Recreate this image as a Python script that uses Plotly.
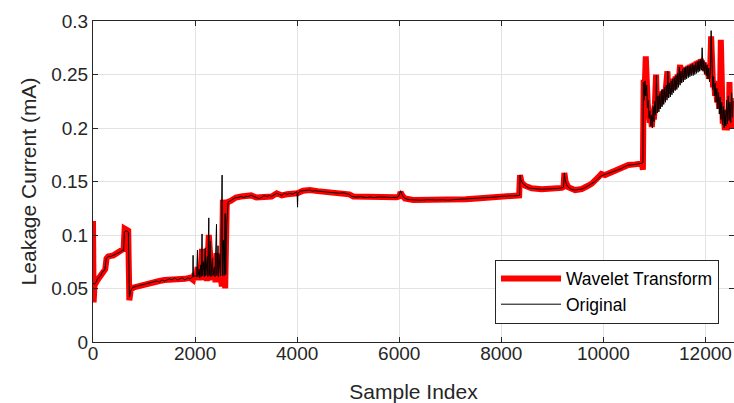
import plotly.graph_objects as go

# ---- Original signal ----
orig_x = [0, 40, 90, 150, 190, 230, 260, 300, 353, 400, 450, 484, 530, 582, 600, 615, 650, 693, 713, 740, 778, 850, 941, 1000, 1100, 1203, 1250, 1300, 1350, 1400, 1465, 1500, 1550, 1600, 1650, 1700, 1750, 1800, 1857, 1900, 1940,
          1955, 1961, 1967, 2000, 2030, 2047, 2055, 2080, 2090, 2110, 2120, 2137, 2145, 2170, 2180, 2200, 2210, 2240, 2250, 2269, 2277, 2300, 2310, 2340, 2350, 2380, 2390, 2420, 2428, 2450, 2460, 2490, 2500, 2530, 2538, 2560, 2570, 2590, 2600, 2620, 2630,
          2647, 2700, 2750, 2800, 2843, 2900, 2950, 3000, 3039, 3100, 3150, 3200, 3250, 3302, 3350, 3400, 3465, 3500, 3550, 3596, 3650, 3700, 3750, 3800, 3857, 3900, 3950, 3988, 4000, 4008, 4015, 4060, 4118, 4180, 4249, 4300, 4350, 4400, 4450, 4510, 4600, 4700, 4773, 4850, 4900, 4969, 5020, 5067, 5150, 5250, 5350, 5425, 5500, 5600, 5700, 5753, 5850, 5950, 5990, 6027, 6060, 6112, 6200, 6275, 6350, 6450, 6550, 6650, 6733, 6850, 6950, 7050, 7125, 7200, 7300, 7400, 7518, 7600, 7700, 7800, 7900, 8039, 8100, 8171, 8250, 8340, 8360,
          8367, 8380, 8420, 8465, 8530, 8596, 8700, 8792, 8900, 8988, 9100, 9184, 9220, 9236, 9250, 9280, 9314, 9380, 9445, 9510, 9576, 9650, 9700, 9773, 9840, 9902, 9950, 10000, 10033, 10100, 10200, 10294, 10350, 10420, 10490, 10560, 10620, 10700, 10753, 10775]
orig_y = [0.055, 0.054, 0.059, 0.062, 0.066, 0.067, 0.078, 0.080, 0.080, 0.081, 0.082, 0.083, 0.084, 0.086, 0.085, 0.103, 0.104, 0.103, 0.042, 0.048, 0.051, 0.052, 0.053, 0.054, 0.055, 0.056, 0.057, 0.056, 0.058, 0.057, 0.058, 0.059, 0.058, 0.060, 0.058, 0.059, 0.060, 0.058, 0.060, 0.059, 0.061,
          0.061, 0.081, 0.061, 0.062, 0.061, 0.086, 0.061, 0.068, 0.060, 0.072, 0.061, 0.101, 0.062, 0.075, 0.061, 0.088, 0.062, 0.080, 0.061, 0.116, 0.062, 0.094, 0.061, 0.078, 0.062, 0.070, 0.061, 0.110, 0.062, 0.090, 0.061, 0.082, 0.062, 0.156, 0.062, 0.095, 0.062, 0.120, 0.063, 0.110, 0.125,
          0.131, 0.132, 0.134, 0.135, 0.135, 0.136, 0.135, 0.136, 0.136, 0.137, 0.136, 0.135, 0.134, 0.135, 0.137, 0.136, 0.137, 0.136, 0.138, 0.139, 0.138, 0.137, 0.139, 0.138, 0.139, 0.138, 0.139, 0.1405, 0.139, 0.126, 0.139, 0.141, 0.1414, 0.142, 0.142, 0.141, 0.1415, 0.141, 0.1405, 0.1405, 0.140, 0.1395, 0.139, 0.139, 0.1395, 0.139, 0.138, 0.136, 0.1355, 0.1358, 0.135, 0.1355, 0.135, 0.1355, 0.135, 0.1353, 0.135, 0.1352, 0.136, 0.1414, 0.137, 0.1342, 0.133, 0.1327, 0.133, 0.1325, 0.133, 0.1325, 0.1327, 0.133, 0.1325, 0.133, 0.1332, 0.1335, 0.1333, 0.134, 0.1342, 0.1345, 0.135, 0.1352, 0.1355, 0.1364, 0.1362, 0.1367, 0.1365, 0.137, 0.137,
          0.156, 0.152, 0.148, 0.146, 0.144, 0.1436, 0.143, 0.1427, 0.143, 0.143, 0.1435, 0.144, 0.145, 0.158, 0.152, 0.147, 0.1446, 0.1425, 0.142, 0.1425, 0.143, 0.1445, 0.146, 0.148, 0.150, 0.153, 0.155, 0.156, 0.1565, 0.158, 0.159, 0.1608, 0.162, 0.164, 0.1654, 0.1655, 0.166, 0.1665, 0.167, 0.168]

# Noisy tail of the original signal, samples every 16 indices from 10784
tail_start, tail_step = 10784, 16
orig_tail_y = [0.243, 0.226, 0.244, 0.230, 0.240, 0.219, 0.226, 0.209, 0.216, 0.202,
               0.212, 0.200, 0.220, 0.206, 0.225, 0.212, 0.249, 0.214, 0.230, 0.215,
               0.232, 0.218, 0.235, 0.220, 0.236, 0.222, 0.238, 0.224, 0.240, 0.226,
               0.253, 0.228, 0.242, 0.229, 0.244, 0.231, 0.246, 0.233, 0.247, 0.235,
               0.249, 0.236, 0.251, 0.238, 0.257, 0.240, 0.253, 0.242, 0.255, 0.243,
               0.256, 0.245, 0.257, 0.246, 0.258, 0.247, 0.258, 0.248, 0.259, 0.249,
               0.260, 0.249, 0.259, 0.250, 0.261, 0.251, 0.262, 0.252, 0.263, 0.253,
               0.264, 0.254, 0.275, 0.253, 0.263, 0.251, 0.261, 0.249, 0.259, 0.246,
               0.256, 0.243, 0.253, 0.291, 0.244, 0.236, 0.248, 0.230, 0.242, 0.224,
               0.237, 0.218, 0.233, 0.213, 0.229, 0.208, 0.224, 0.203, 0.220, 0.200,
               0.217, 0.202, 0.226, 0.204, 0.230, 0.207, 0.224, 0.205, 0.233, 0.210, 0.228]
orig_tail_x = [tail_start + tail_step * i for i in range(len(orig_tail_y))]

# ---- Wavelet-transform signal ----
wav_x = [0, 12, 30, 90, 150, 200, 240, 265, 300, 400, 484, 582, 600, 620, 690, 712, 740, 800, 941, 1100, 1203, 1300, 1400, 1500, 1600, 1700, 1800, 1900,
         1960, 1990, 2020, 2050, 2080, 2110, 2137, 2160, 2200, 2230, 2269, 2300, 2330, 2370, 2400, 2420, 2450, 2480, 2510, 2525, 2545, 2570, 2590, 2620, 2650,
         2700, 2800, 2900, 3000, 3100, 3200, 3302, 3400, 3500, 3600, 3700, 3800, 3900, 4000, 4118, 4249, 4400, 4510, 4700, 4900, 5020, 5100, 5300, 5500, 5700, 5950, 6000, 6027, 6060, 6112, 6275, 6500, 6733, 7000, 7300, 7518, 7800, 8039, 8200, 8350,
         8367, 8400, 8465, 8596, 8792, 8988, 9184, 9220, 9236, 9260, 9314, 9445, 9576, 9700, 9773, 9902, 9960, 10033, 10200, 10294, 10490, 10620, 10753, 10775,
         10790, 10810, 10831, 10850, 10870, 10890, 10910, 10930, 10950, 10970, 10990, 11010, 11033, 11050, 11070, 11090, 11110, 11130, 11150, 11170, 11190, 11210, 11230, 11255,
         11275, 11295, 11315, 11335, 11355, 11375, 11395, 11415, 11435, 11455, 11475, 11504, 11525, 11545, 11565, 11585, 11605, 11625, 11645, 11665, 11685, 11705, 11725,
         11745, 11765, 11785, 11805, 11825, 11845, 11865, 11885, 11905, 11929, 11950, 11970, 11990, 12010, 12030, 12050, 12070, 12090, 12112, 12130, 12150, 12170, 12190,
         12210, 12230, 12250, 12270, 12285, 12302, 12320, 12340, 12360, 12380, 12400, 12420, 12440, 12460, 12471, 12490, 12510, 12530, 12545, 12560]
wav_y = [0.113, 0.037, 0.053, 0.058, 0.062, 0.066, 0.068, 0.078, 0.080, 0.081, 0.083, 0.086, 0.087, 0.106, 0.104, 0.039, 0.049, 0.051, 0.053, 0.055, 0.056, 0.057, 0.058, 0.058, 0.059, 0.059, 0.059, 0.060,
         0.058, 0.064, 0.058, 0.070, 0.058, 0.066, 0.087, 0.058, 0.072, 0.057, 0.100, 0.078, 0.058, 0.066, 0.056, 0.083, 0.060, 0.072, 0.055, 0.052, 0.133, 0.060, 0.050, 0.128, 0.131,
         0.132, 0.135, 0.136, 0.136, 0.137, 0.135, 0.135, 0.136, 0.136, 0.139, 0.137, 0.138, 0.138, 0.139, 0.1414, 0.142, 0.141, 0.1405, 0.1395, 0.1395, 0.138, 0.136, 0.1356, 0.1352, 0.1353, 0.1352, 0.136, 0.140, 0.137, 0.1342, 0.1327, 0.1327, 0.1327, 0.1328, 0.1334, 0.1342, 0.1352, 0.1364, 0.1366, 0.137,
         0.156, 0.149, 0.146, 0.1436, 0.1427, 0.143, 0.144, 0.145, 0.158, 0.150, 0.1446, 0.142, 0.143, 0.146, 0.148, 0.154, 0.157, 0.156, 0.159, 0.1608, 0.1654, 0.166, 0.167, 0.161,
         0.245, 0.236, 0.267, 0.232, 0.222, 0.215, 0.205, 0.212, 0.201, 0.214, 0.208, 0.222, 0.250, 0.218, 0.228, 0.220, 0.231, 0.223, 0.234, 0.226, 0.236, 0.229, 0.238, 0.253,
         0.232, 0.241, 0.234, 0.244, 0.236, 0.246, 0.238, 0.248, 0.241, 0.250, 0.243, 0.259, 0.245, 0.254, 0.247, 0.256, 0.249, 0.257, 0.250, 0.258, 0.251, 0.259, 0.252,
         0.260, 0.253, 0.261, 0.254, 0.262, 0.255, 0.263, 0.256, 0.264, 0.262, 0.257, 0.261, 0.254, 0.258, 0.250, 0.255, 0.246, 0.250, 0.2856, 0.243, 0.238, 0.244, 0.230,
         0.238, 0.224, 0.232, 0.218, 0.226, 0.2825, 0.215, 0.204, 0.212, 0.198, 0.206, 0.198, 0.210, 0.200, 0.243, 0.203, 0.214, 0.200, 0.225, 0.215]

x_ticks = [0, 2000, 4000, 6000, 8000, 10000, 12000]
x_tick_text = ["0", "2000", "4000", "6000", "8000", "10000", "12000"]
y_ticks = [0, 0.05, 0.1, 0.15, 0.2, 0.25, 0.3]
y_tick_text = ["0", "0.05", "0.1", "0.15", "0.2", "0.25", "0.3"]

FONT = "Liberation Sans, Arial, Helvetica, sans-serif"
AX = "#262626"

fig = go.Figure()
fig.add_trace(go.Scatter(x=wav_x, y=wav_y, mode="lines", name="Wavelet Transform",
                         line=dict(color="#ff0000", width=6)))
fig.add_trace(go.Scatter(x=orig_x + orig_tail_x, y=orig_y + orig_tail_y, mode="lines", name="Original",
                         line=dict(color="#000000", width=1)))

axis_common = dict(showline=True, linecolor=AX, linewidth=1, mirror="ticks",
                   ticks="inside", ticklen=5, tickcolor=AX, showgrid=True,
                   gridcolor="#e3e3e3", gridwidth=1, zeroline=False, automargin=False,
                   tickfont=dict(family=FONT, size=19, color=AX))

fig.update_xaxes(range=[0, 12560], tickvals=x_ticks, ticktext=x_tick_text, ticklabelstandoff=-6,
                 title=dict(text="Sample Index", font=dict(family=FONT, size=21, color=AX), standoff=21),
                 **axis_common)
fig.update_yaxes(range=[0, 0.3], tickvals=y_ticks, ticktext=y_tick_text,
                 title=dict(text="Leakage Current (mA)", font=dict(family=FONT, size=21, color=AX), standoff=8),
                 **axis_common)

fig.update_layout(width=734, height=403,
                  margin=dict(l=93, r=0, t=21, b=61),
                  paper_bgcolor="white", plot_bgcolor="white",
                  font=dict(family=FONT, color=AX),
                  legend=dict(x=0.9766, y=0.0574, xanchor="right", yanchor="bottom",
                              bgcolor="white", bordercolor=AX, borderwidth=1,
                              font=dict(family=FONT, size=17.5, color="#000000"),
                              itemwidth=60, tracegroupgap=0),
                  showlegend=True)

fig.write_html("out.html", config={"displayModeBar": False},
               post_script="document.body.style.margin='0';document.body.style.overflow='hidden';")
